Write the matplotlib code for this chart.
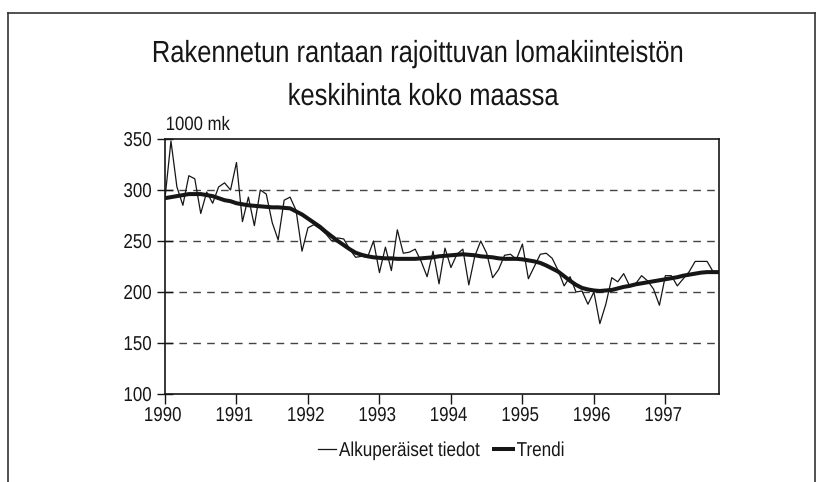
import matplotlib
matplotlib.use('Agg')
import matplotlib.pyplot as plt
from matplotlib.lines import Line2D
from matplotlib.textpath import TextPath
from matplotlib.patches import PathPatch
from matplotlib.transforms import Affine2D, IdentityTransform
from matplotlib.font_manager import FontProperties
import numpy as np

# ---- data (monthly, Jan 1990 .. Oct 1997), 1000 mk ----
years = [1990, 1991, 1992, 1993, 1994, 1995, 1996, 1997]
yticks = [100, 150, 200, 250, 300, 350]
raw = [292, 348, 303, 285, 314, 311, 277, 298, 287, 303, 307, 300,
       327, 269, 293, 265, 300, 296, 268, 251, 290, 293, 280, 240,
       263, 266, 262, 257, 250, 253, 252, 242, 234, 235, 234, 250,
       219, 244, 221, 261, 238, 239, 242, 230, 215, 240, 208, 243,
       224, 237, 242, 207, 235, 250, 238, 214, 222, 236, 237, 232,
       247, 213, 225, 237, 238, 233, 221, 206, 215, 200, 201, 188,
       200, 169, 188, 214, 210, 218, 206, 208, 216, 211, 203, 187,
       216, 216, 206, 213, 220, 230, 230, 230, 220, 219]
trend = [292, 293, 294, 295, 296, 296, 296, 295, 294, 292, 290, 289,
         287, 286, 285, 284.5, 284, 283.5, 283, 283, 282.5, 282, 279, 276,
         272, 268, 264, 259, 254.5, 250, 246, 242, 238.5, 236.5, 235, 234,
         233.5, 233, 233, 232.5, 232.5, 232.5, 232.5, 233, 233.5, 234, 235, 235.5,
         236, 236.5, 237, 236.5, 236, 235, 234.5, 234, 233, 232.5, 232.5, 232.5,
         232, 231, 230, 228.5, 226, 223, 220, 215.5, 211, 207, 204, 202.5,
         201.5, 201, 201.5, 202, 203.5, 205, 206, 207.5, 208.5, 209.5, 210.5, 211.5,
         212.5, 213.5, 214.5, 216, 217, 218, 219, 219.5, 219.5, 219.5]
title_lines = ["Rakennetun rantaan rajoittuvan lomakiinteistön", "keskihinta koko maassa"]
unit_label = "1000 mk"
legend_labels = ["Alkuperäiset tiedot", "Trendi"]

plt.rcParams['font.family'] = ['Liberation Sans', 'DejaVu Sans']

INK = '#161616'
W, H = 823, 482
fig = plt.figure(figsize=(W / 100, H / 100), dpi=100)
fig.patch.set_facecolor('white')

FP = FontProperties(family='Liberation Sans')


def ntext(px, py_top, s, size, ha='left', sx=0.84):
    """Draw narrow (horizontally condensed) text; baseline at py_top (pixels from top)."""
    tp = TextPath((0, 0), s, size=size, prop=FP)
    bb = tp.get_extents()
    k = 100 / 72
    if ha == 'left':
        ox = -bb.x0
    elif ha == 'center':
        ox = -(bb.x0 + bb.x1) / 2
    else:
        ox = -bb.x1
    tr = Affine2D().translate(ox, 0).scale(sx * k, k).translate(px, H - py_top)
    patch = PathPatch(tr.transform_path(tp), facecolor=INK, edgecolor='none',
                      lw=0, transform=IdentityTransform())
    fig.add_artist(patch)


L, R, T, B = 165, 719, 139, 394
ax = fig.add_axes([L / W, 1 - B / H, (R - L) / W, (B - T) / H])

x = 1990 + np.arange(len(raw)) / 12.0
for g in yticks[1:-1]:
    ax.axhline(g, color='#444444', lw=1.0, dashes=(5.5, 4.5), zorder=1)
l1, = ax.plot(x, raw, color=INK, lw=0.9, zorder=3)
l2, = ax.plot(x, trend, color=INK, lw=2.9, zorder=4, solid_capstyle='butt')

ax.set_xlim(1990, 1990 + (len(raw) - 1) / 12.0)
ax.set_ylim(100, 350)
ax.set_yticks(yticks)
ax.set_xticks(years)
ax.tick_params(axis='y', direction='inout', length=11, width=1.0,
               labelleft=False, colors=INK)
ax.tick_params(axis='x', direction='out', length=7, width=1.0,
               labelbottom=False, colors=INK)
for s in ax.spines.values():
    s.set_color(INK)
    s.set_linewidth(1.2)

# tick labels (condensed)
for v in yticks:
    _, yd = ax.transData.transform((1990, v))
    ntext(151, (H - yd) + 7, str(v), 14.5, ha='right', sx=0.84)
for yr in years:
    xd, _ = ax.transData.transform((yr, 100))
    ntext(xd - 2, 421, str(yr), 14.5, ha='center', sx=0.84)

# titles
ntext(418, 62, title_lines[0], 22, ha='center', sx=0.835)
ntext(424, 105, title_lines[1], 22, ha='center', sx=0.835)
ntext(167, 130, unit_label, 14, ha='left', sx=0.86)

# legend (manual)
fig.add_artist(Line2D([318 / W, 336 / W], [1 - 449 / H] * 2,
                      transform=fig.transFigure, color=INK, lw=0.9))
ntext(339, 456, legend_labels[0], 14.5, ha='left', sx=0.85)
fig.add_artist(Line2D([492 / W, 515 / W], [1 - 449 / H] * 2,
                      transform=fig.transFigure, color=INK, lw=2.9,
                      solid_capstyle='butt'))
ntext(517, 456, legend_labels[1], 14.5, ha='left', sx=0.85)

# outer frame
fr = dict(transform=fig.transFigure, color='#333333', lw=1.2)
fig.add_artist(Line2D([8 / W, 815 / W], [1 - 13 / H, 1 - 13 / H], **fr))
fig.add_artist(Line2D([8 / W, 8 / W], [0, 1 - 13 / H], **fr))
fig.add_artist(Line2D([815 / W, 815 / W], [0, 1 - 13 / H], **fr))

fig.savefig('out.png', dpi=100, facecolor='white')
